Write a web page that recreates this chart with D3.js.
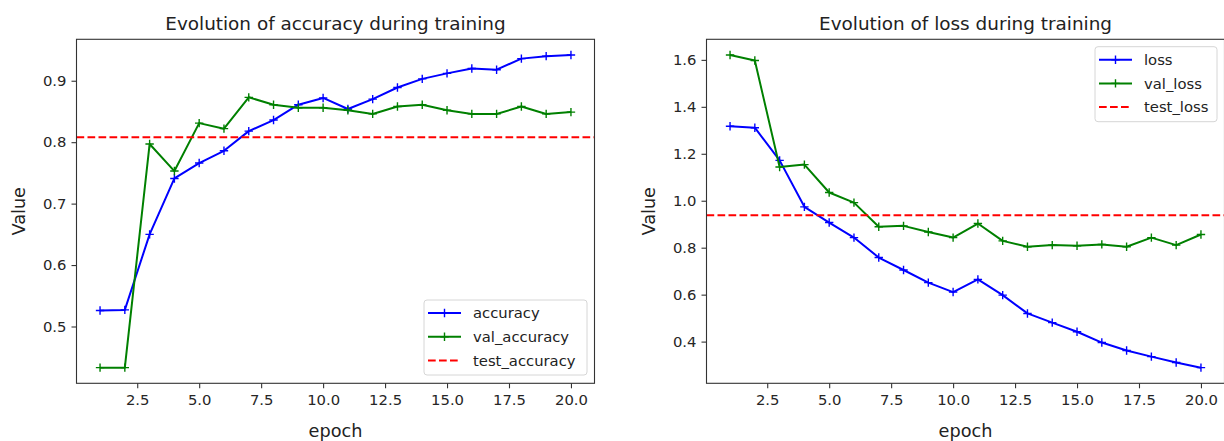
<!DOCTYPE html>
<html>
<head>
<meta charset="utf-8">
<script src="https://cdn.jsdelivr.net/npm/d3@7"></script>
<style>
  body { margin: 0; background: #fff; }
  svg { display: block; font-family: "DejaVu Sans", sans-serif; }
</style>
</head>
<body>
<div id="canvas"></div>
<script>
var epochs = [1, 2, 3, 4, 5, 6, 7, 8, 9, 10, 11, 12, 13, 14, 15, 16, 17, 18, 19, 20];

var accuracy = [0.526, 0.527, 0.650, 0.741, 0.766, 0.786, 0.818, 0.836, 0.861, 0.872,
                0.854, 0.870, 0.889, 0.903, 0.912, 0.920, 0.918, 0.936, 0.940, 0.942];
var valAccuracy = [0.433, 0.433, 0.797, 0.753, 0.831, 0.822, 0.873, 0.861, 0.856, 0.856,
                   0.852, 0.846, 0.858, 0.861, 0.852, 0.846, 0.846, 0.858, 0.846, 0.849];
var testAccuracy = 0.808;

var loss = [1.317, 1.311, 1.172, 0.974, 0.907, 0.843, 0.758, 0.705, 0.651, 0.611,
            0.665, 0.598, 0.520, 0.481, 0.442, 0.396, 0.362, 0.336, 0.311, 0.289];
var valLoss = [1.621, 1.597, 1.144, 1.154, 1.035, 0.992, 0.889, 0.893, 0.867, 0.843,
               0.903, 0.829, 0.804, 0.811, 0.808, 0.814, 0.804, 0.843, 0.811, 0.856];
var testLoss = 0.938;

var xTicks = [2.5, 5.0, 7.5, 10.0, 12.5, 15.0, 17.5, 20.0];
var accTicks = [0.5, 0.6, 0.7, 0.8, 0.9];
var lossTicks = [0.4, 0.6, 0.8, 1.0, 1.2, 1.4, 1.6];

var width = 1224, height = 441;
var svg = d3.select('#canvas').append('svg')
    .attr('width', width)
    .attr('height', height);

// matplotlib style 5% margins
var padded = function (lo, hi) {
    var m = (hi - lo) * 0.05;
    return [lo - m, hi + m];
};

var drawPanel = function (opts) {
    var left = opts.left, top = 39.3, w = 518, h = 344;
    var g = svg.append('g').attr('transform', 'translate(' + left + ',' + top + ')');

    var x = d3.scaleLinear().domain(padded(d3.min(epochs), d3.max(epochs))).range([0, w]);
    var all = opts.series[0].values.concat(opts.series[1].values, [opts.test.value]);
    var y = d3.scaleLinear().domain(padded(d3.min(all), d3.max(all))).range([h, 0]);

    var clipId = 'clip' + opts.id;
    g.append('clipPath').attr('id', clipId)
        .append('rect').attr('width', w).attr('height', h);

    var plot = g.append('g').attr('clip-path', 'url(#' + clipId + ')');

    var line = d3.line()
        .x(function (d, i) { return x(epochs[i]); })
        .y(function (d) { return y(d); });

    opts.series.forEach(function (s) {
        plot.append('path')
            .attr('d', line(s.values))
            .attr('fill', 'none')
            .attr('stroke', s.color)
            .attr('stroke-width', 2)
            .attr('stroke-linejoin', 'round');
        plot.selectAll(null)
            .data(s.values)
            .enter().append('path')
            .attr('d', function (d, i) {
                var cx = x(epochs[i]), cy = y(d), r = 4.2;
                return 'M' + (cx - r) + ',' + cy + 'H' + (cx + r) + 'M' + cx + ',' + (cy - r) + 'V' + (cy + r);
            })
            .attr('stroke', s.color)
            .attr('stroke-width', 1.4);
    });

    plot.append('line')
        .attr('x1', 0).attr('x2', w)
        .attr('y1', y(opts.test.value)).attr('y2', y(opts.test.value))
        .attr('stroke', '#ff0000')
        .attr('stroke-width', 2)
        .attr('stroke-dasharray', '7.7,3.3');

    // axes
    var xAxis = g.append('g')
        .attr('transform', 'translate(0,' + h + ')')
        .call(d3.axisBottom(x).tickValues(xTicks).tickFormat(d3.format('.1f')).tickSize(5).tickPadding(6));
    var yAxis = g.append('g')
        .call(d3.axisLeft(y).tickValues(opts.yTicks).tickFormat(d3.format('.1f')).tickSize(5).tickPadding(5));
    [xAxis, yAxis].forEach(function (a) {
        a.select('.domain').remove();
        a.selectAll('line').attr('stroke', '#333').attr('stroke-width', 1.1);
        a.selectAll('text').attr('fill', '#262626').style('font-size', '14.8px')
            .style('font-family', '"DejaVu Sans", sans-serif');
    });
    xAxis.selectAll('text').attr('dy', '0.71em');

    g.append('rect')
        .attr('width', w).attr('height', h)
        .attr('fill', 'none')
        .attr('stroke', '#333')
        .attr('stroke-width', 1.1);

    // titles and labels
    g.append('text')
        .attr('x', w / 2).attr('y', -9.5)
        .attr('text-anchor', 'middle')
        .attr('fill', '#222')
        .style('font-size', '18.4px')
        .text(opts.title);
    g.append('text')
        .attr('x', w / 2).attr('y', h + 54)
        .attr('text-anchor', 'middle')
        .attr('fill', '#222')
        .style('font-size', '17.7px')
        .text('epoch');
    g.append('text')
        .attr('transform', 'translate(' + opts.ylabelX + ',' + (h / 2) + ') rotate(-90)')
        .attr('text-anchor', 'middle')
        .attr('fill', '#222')
        .style('font-size', '17.7px')
        .text('Value');

    // legend
    var lg = g.append('g').attr('transform', 'translate(' + opts.legend.x + ',' + opts.legend.y + ')');
    lg.append('rect')
        .attr('width', opts.legend.w).attr('height', 75)
        .attr('rx', 3)
        .attr('fill', '#fff').attr('fill-opacity', 0.8)
        .attr('stroke', '#d6d6d6');
    var items = opts.series.concat([{ name: opts.test.name, color: '#ff0000', dashed: true }]);
    items.forEach(function (it, i) {
        var cy = 13 + i * 23.7;
        var row = lg.append('g').attr('transform', 'translate(0,' + cy + ')');
        row.append('line')
            .attr('x1', 4).attr('x2', 37).attr('y1', 0).attr('y2', 0)
            .attr('stroke', it.color).attr('stroke-width', 2)
            .attr('stroke-dasharray', it.dashed ? '7.7,3.3' : null);
        if (!it.dashed) {
            row.append('path')
                .attr('d', 'M16.3,0H24.7M20.5,-4.2V4.2')
                .attr('stroke', it.color).attr('stroke-width', 1.4);
        }
        row.append('text')
            .attr('x', 49).attr('y', 0).attr('dy', '0.35em')
            .attr('fill', '#222')
            .style('font-size', '14.8px')
            .text(it.name);
    });
};

drawPanel({
    id: 'acc',
    left: 76.5,
    title: 'Evolution of accuracy during training',
    series: [
        { name: 'accuracy', values: accuracy, color: '#0000ff' },
        { name: 'val_accuracy', values: valAccuracy, color: '#008000' }
    ],
    test: { name: 'test_accuracy', value: testAccuracy },
    yTicks: accTicks,
    ylabelX: -51.5,
    legend: { x: 347.5, y: 260.7, w: 163 }
});

drawPanel({
    id: 'loss',
    left: 706.5,
    title: 'Evolution of loss during training',
    series: [
        { name: 'loss', values: loss, color: '#0000ff' },
        { name: 'val_loss', values: valLoss, color: '#008000' }
    ],
    test: { name: 'test_loss', value: testLoss },
    yTicks: lossTicks,
    ylabelX: -51.5,
    legend: { x: 388.5, y: 7.4, w: 122 }
});
</script>
</body>
</html>
